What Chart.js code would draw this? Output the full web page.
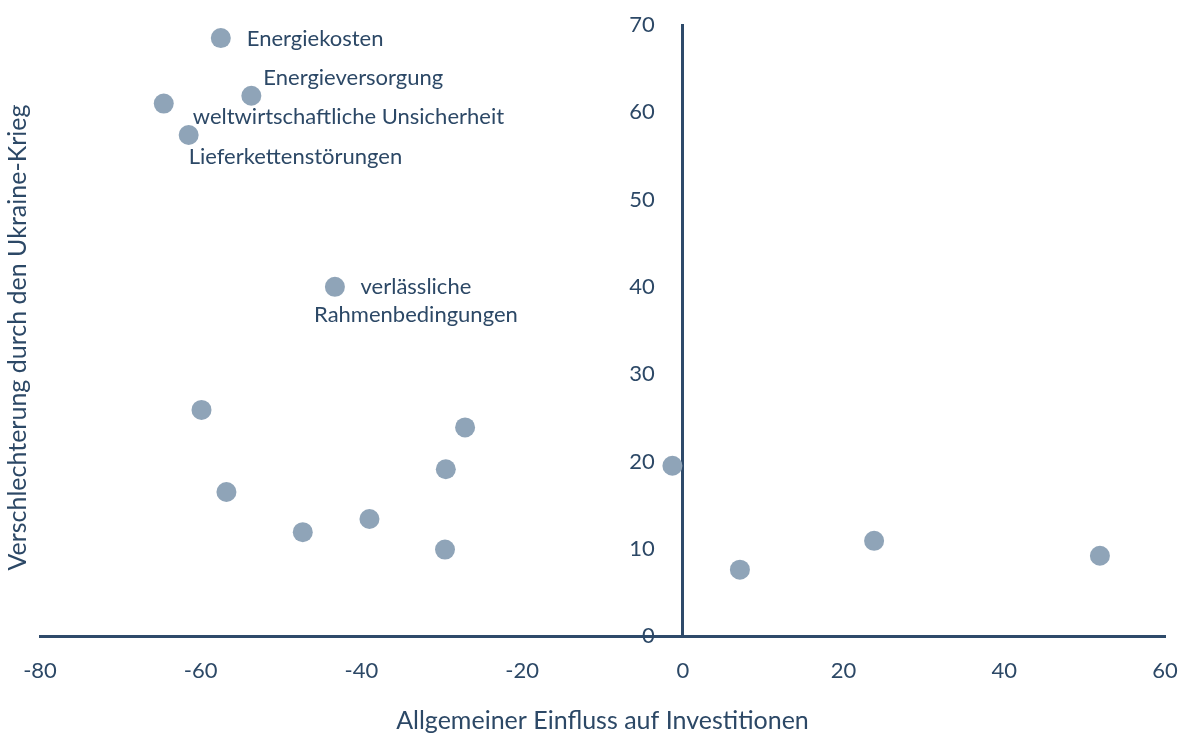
<!DOCTYPE html>
<html>
<head>
<meta charset="utf-8">
<script src="https://cdn.jsdelivr.net/npm/chart.js@4.4.0/dist/chart.umd.min.js"></script>
<style>
  html, body { margin: 0; padding: 0; background: #ffffff; }
</style>
</head>
<body>
<canvas id="chart" width="1184" height="733"></canvas>
<script>
// Data
const xValues = [-57.5, -53.7, -64.6, -61.5, -43.3, -59.9, -56.8, -47.3, -39.0, -27.1, -29.5, -29.6, -1.3, 7.1, 23.8, 51.9];
const yValues = [68.5, 61.9, 61.0, 57.4, 40.0, 25.9, 16.5, 11.9, 13.4, 23.9, 19.1, 9.9, 19.5, 7.6, 10.9, 9.2];
const pointNames = [
    'Energiekosten',
    'Energieversorgung',
    'weltwirtschaftliche Unsicherheit',
    'Lieferkettenstörungen',
    'verlässliche\nRahmenbedingungen',
    '', '', '', '', '', '', '', '', '', '', ''
];
const xTicks = [-80, -60, -40, -20, 0, 20, 40, 60];
const yTicks = [0, 10, 20, 30, 40, 50, 60, 70];
const xTitle = 'Allgemeiner Einfluss auf Investitionen';
const yTitle = 'Verschlechterung durch den Ukraine-Krieg';

const textColor = '#2c4866';
const axisColor = '#2e4a6a';
const pointColor = '#8fa4b8';

// where each point label sits relative to its point (pixels)
const labelPlacement = {
    0: { dx: 26, dy: 1, align: 'left' },
    1: { dx: 12, dy: -18, align: 'left' },
    2: { dx: 29, dy: 13, align: 'left' },
    3: { dx: 0, dy: 22, align: 'left' },
    4: { dx: 81, dy: 0, align: 'center' }
};

// Labels and axis titles
const labelPlugin = {
    id: 'pointLabels',
    afterDraw(chart) {
        const ctx = chart.ctx;
        const meta = chart.getDatasetMeta(0);
        const area = chart.chartArea;
        ctx.save();
        ctx.fillStyle = textColor;
        ctx.font = '22px Lato';
        ctx.textBaseline = 'middle';
        pointNames.forEach((name, i) => {
            if (!name) return;
            const pos = labelPlacement[i];
            const pt = meta.data[i];
            ctx.textAlign = pos.align;
            name.split('\n').forEach((line, j) => {
                ctx.fillText(line, pt.x + pos.dx, pt.y + pos.dy + j * 28);
            });
        });

        // x axis title
        ctx.font = '25px Lato';
        ctx.textAlign = 'center';
        ctx.fillText(xTitle, (area.left + area.right) / 2, 721);

        // y axis title
        ctx.translate(18, (area.top + area.bottom) / 2 + 7);
        ctx.rotate(-Math.PI / 2);
        ctx.fillText(yTitle, 0, 0);
        ctx.restore();
    }
};

// axes sit inside the chart area, so drop the extra label padding
const noPadding = axis => {
    axis.paddingLeft = 0;
    axis.paddingRight = 0;
    axis.paddingTop = 0;
    axis.paddingBottom = 0;
};

new Chart(document.getElementById('chart').getContext('2d'), {
    type: 'scatter',
    data: {
        datasets: [{
            data: xValues.map((x, i) => ({ x: x, y: yValues[i] })),
            backgroundColor: pointColor,
            borderWidth: 0,
            pointRadius: 10,
            pointHoverRadius: 10
        }]
    },
    options: {
        responsive: false,
        animation: false,
        events: [],
        layout: {
            padding: { left: 40, right: 19, top: 25, bottom: 97 }
        },
        plugins: {
            legend: { display: false },
            tooltip: { enabled: false }
        },
        scales: {
            x: {
                type: 'linear',
                position: { y: 0 },
                min: -80,
                max: 60,
                z: 1,
                afterBuildTicks: axis => { axis.ticks = xTicks.map(v => ({ value: v })); },
                afterFit: noPadding,
                grid: { display: false, drawTicks: false },
                border: { display: true, color: axisColor, width: 3 },
                ticks: {
                    padding: 22,
                    color: textColor,
                    font: { family: 'Lato', size: 22 },
                    autoSkip: false,
                    maxRotation: 0,
                    callback: v => String(v)
                }
            },
            y: {
                type: 'linear',
                position: { x: 0 },
                min: 0,
                max: 70,
                z: 1,
                afterBuildTicks: axis => { axis.ticks = yTicks.map(v => ({ value: v })); },
                afterFit: noPadding,
                grid: { display: false, drawTicks: false },
                border: { display: true, color: axisColor, width: 3 },
                ticks: {
                    color: textColor,
                    font: { family: 'Lato', size: 22 },
                    autoSkip: false,
                    // labels sit left of the axis line; trailing spaces keep the gap
                    callback: v => String(v) + '     '
                }
            }
        }
    },
    plugins: [labelPlugin]
});
</script>
</body>
</html>
